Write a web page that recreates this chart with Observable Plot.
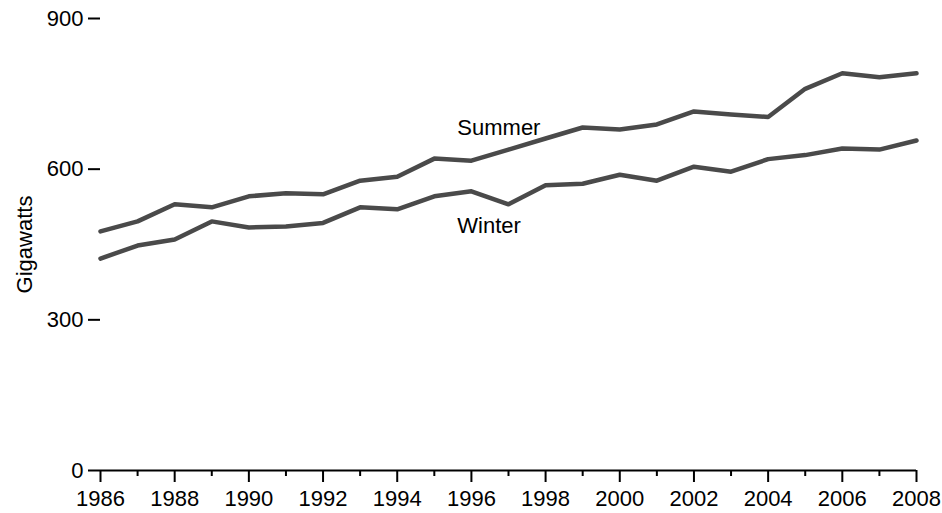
<!DOCTYPE html>
<html>
<head>
<meta charset="utf-8">
<script src="https://cdn.jsdelivr.net/npm/d3@7"></script>
<script src="https://cdn.jsdelivr.net/npm/@observablehq/plot@0.6"></script>
<style>
  html, body { margin: 0; padding: 0; background: #fff; }
  #chart svg text { font-size: 22px !important; font-family: 'Liberation Sans', Arial, sans-serif !important; }
</style>
</head>
<body>
<div id="chart"></div>
<script>
const years = [1986,1987,1988,1989,1990,1991,1992,1993,1994,1995,1996,1997,1998,1999,2000,2001,2002,2003,2004,2005,2006,2007,2008];
const summer = [476,496,530,524,546,552,550,577,585,621,617,639,661,683,679,689,715,709,704,760,791,783,791];
const winter = [422,448,460,496,484,486,493,524,520,546,556,530,568,571,589,577,605,595,620,628,641,639,657];
const yTicks = [0,300,600,900];
const xMajorTicks = [1986,1988,1990,1992,1994,1996,1998,2000,2002,2004,2006,2008];
const xMinorTicks = [1987,1989,1991,1993,1995,1997,1999,2001,2003,2005,2007];
const seriesLabels = [
  {name: "Summer", year: 1995.62, value: 683},
  {name: "Winter", year: 1995.62, value: 486}
];
const yLabel = "Gigawatts";

const summerData = years.map((y, i) => ({year: y, value: summer[i]}));
const winterData = years.map((y, i) => ({year: y, value: winter[i]}));

const lineColor = "#4a4a4a";
const fs = 22;

const chart = Plot.plot({
  width: 942,
  height: 513,
  marginLeft: 100,
  marginRight: 26,
  marginTop: 18,
  marginBottom: 43,
  style: {fontFamily: "'Liberation Sans', Arial, sans-serif", fontSize: fs + "px", color: "#000", background: "#fff"},
  x: {domain: [1986, 2008], label: null},
  y: {domain: [0, 900], label: null},
  marks: [
    Plot.axisY(yTicks, {tickSize: 12, tickPadding: 5, strokeWidth: 2, fontSize: fs, label: null, tickFormat: d => String(d)}),
    Plot.axisX(xMajorTicks, {tickSize: 12, tickPadding: 8, strokeWidth: 2, fontSize: fs, label: null, tickFormat: d => String(d)}),
    Plot.axisX(xMinorTicks, {tickSize: 6, strokeWidth: 2, label: null, tickFormat: () => ""}),
    Plot.ruleY([0], {strokeWidth: 2, stroke: "#000"}),
    Plot.line(summerData, {x: "year", y: "value", stroke: lineColor, strokeWidth: 4.5}),
    Plot.line(winterData, {x: "year", y: "value", stroke: lineColor, strokeWidth: 4.5}),
    Plot.text(seriesLabels, {x: "year", y: "value", text: "name", textAnchor: "start", fontSize: fs, fill: "#000"}),
    Plot.text([yLabel], {frameAnchor: "left", textAnchor: "middle", dx: -76, rotate: -90, fontSize: fs, fill: "#000"})
  ]
});
document.getElementById("chart").appendChild(chart);
</script>
</body>
</html>
